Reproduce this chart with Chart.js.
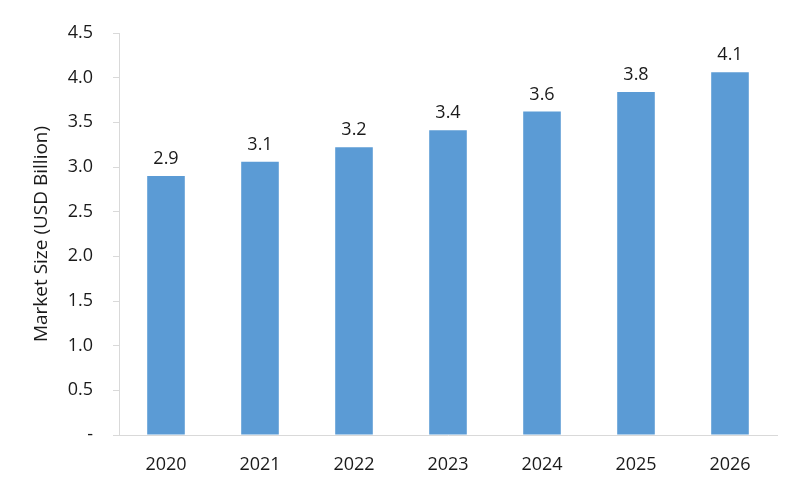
<!DOCTYPE html>
<html>
<head>
<meta charset="utf-8">
<script src="https://cdn.jsdelivr.net/npm/chart.js@4"></script>
<style>
  html, body { margin: 0; padding: 0; background: #fff; }
  #wrap { width: 800px; height: 482px; }
</style>
</head>
<body>
<div id="wrap"><canvas id="marketChart"></canvas></div>
<script>
// values
const years = ['2020', '2021', '2022', '2023', '2024', '2025', '2026'];
const marketSize = [2.9, 3.06, 3.22, 3.41, 3.62, 3.84, 4.06];
const yTicks = [0, 0.5, 1.0, 1.5, 2.0, 2.5, 3.0, 3.5, 4.0, 4.5];

const barColor = '#5b9bd5';
const textColor = '#1a1a1a';
const axisColor = '#d9d9d9';
const fontFamily = '"Open Sans", Lato, sans-serif';

// draws the value above each bar
const valueLabels = {
  id: 'valueLabels',
  afterDatasetsDraw(chart) {
    const ctx = chart.ctx;
    const meta = chart.getDatasetMeta(0);
    ctx.save();
    ctx.font = '18px ' + fontFamily;
    ctx.fillStyle = textColor;
    ctx.textAlign = 'center';
    ctx.textBaseline = 'bottom';
    meta.data.forEach((bar, i) => {
      ctx.fillText(marketSize[i].toFixed(1), bar.x, bar.y - 8);
    });
    ctx.restore();
  }
};

const ctx = document.getElementById('marketChart').getContext('2d');
const chart = new Chart(ctx, {
  type: 'bar',
  data: {
    labels: years,
    datasets: [{
      data: marketSize,
      backgroundColor: barColor,
      categoryPercentage: 0.8,
      barPercentage: 0.5
    }]
  },
  options: {
    responsive: true,
    maintainAspectRatio: false,
    animation: false,
    layout: { padding: { top: 33, right: 23, left: 0, bottom: 0 } },
    plugins: {
      legend: { display: false },
      tooltip: { enabled: false }
    },
    scales: {
      x: {
        grid: { display: false },
        border: { display: true, color: axisColor, width: 1 },
        ticks: {
          color: textColor,
          font: { family: fontFamily, size: 18 },
          padding: 11
        },
        afterFit(scale) { scale.height = 47; }
      },
      y: {
        min: 0,
        max: 4.5,
        afterBuildTicks(scale) {
          scale.ticks = yTicks.map(v => ({ value: v }));
        },
        grid: {
          drawOnChartArea: false,
          drawTicks: true,
          tickLength: 6,
          color: axisColor
        },
        border: { display: true, color: axisColor, width: 1 },
        ticks: {
          color: textColor,
          font: { family: fontFamily, size: 18 },
          padding: 20,
          callback: (v) => v === 0 ? '-' : v.toFixed(1)
        },
        title: {
          display: true,
          text: 'Market Size (USD Billion)',
          color: textColor,
          font: { family: fontFamily, size: 19 },
          padding: { top: 30, bottom: 0 }
        },
        afterFit(scale) { scale.width = 119; }
      }
    }
  },
  plugins: [valueLabels]
});
</script>
</body>
</html>
